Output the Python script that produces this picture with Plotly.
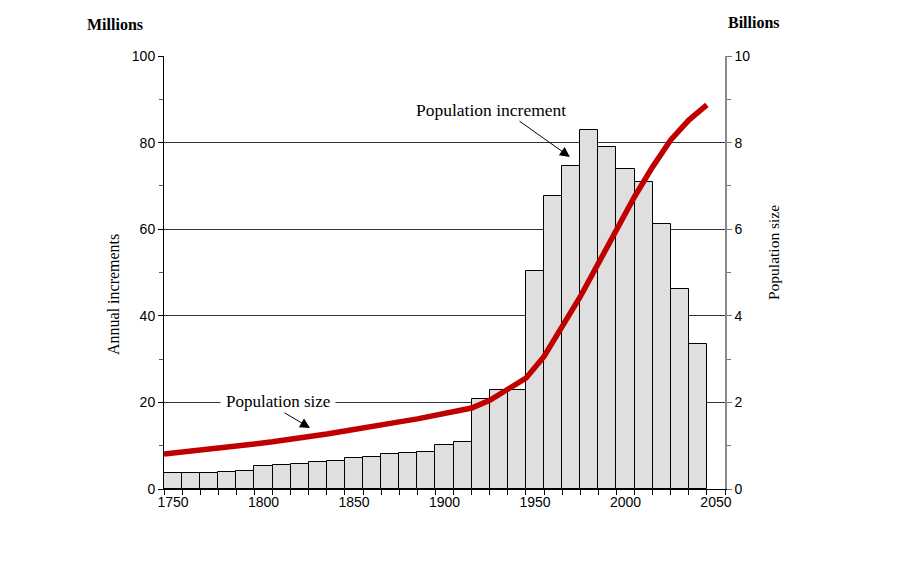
import plotly.graph_objects as go

bar_years = list(range(1750, 2050, 10))
increments = [3.6, 3.6, 3.6, 3.9, 4.2, 5.2, 5.5, 5.7, 6.2, 6.5,
              7.1, 7.3, 8.0, 8.2, 8.5, 10.1, 10.8, 20.9, 22.9, 22.9,
              50.3, 67.6, 74.5, 82.8, 78.9, 74.0, 70.8, 61.1, 46.3, 33.4]

line_years = list(range(1750, 2060, 10))
pop_size = [0.81, 0.85, 0.89, 0.93, 0.99, 1.04, 1.09, 1.14, 1.20, 1.27,
            1.34, 1.40, 1.47, 1.55, 1.62, 1.70, 1.78, 1.87, 2.05, 2.29,
            2.56, 3.06, 3.75, 4.44, 5.21, 5.98, 6.75, 7.44, 8.06, 8.52, 8.87]

label_years = [1750, 1800, 1850, 1900, 1950, 2000, 2050]
cat_width = 10

serif = "Liberation Serif"
sans = "Liberation Sans"

fig = go.Figure()
fig.add_trace(go.Bar(x=bar_years, y=increments, width=cat_width, offset=0,
                     marker=dict(color="#dfdfdf", line=dict(color="black", width=1)),
                     showlegend=False, hoverinfo="skip"))
fig.add_trace(go.Scatter(x=line_years, y=pop_size, yaxis="y2", mode="lines",
                         line=dict(color="#c00000", width=5.5),
                         showlegend=False, hoverinfo="skip"))

fig.update_layout(
    width=891, height=555,
    margin=dict(l=156, r=174, t=48, b=74),
    paper_bgcolor="white", plot_bgcolor="white",
    bargap=0,
    xaxis=dict(range=[1750, 1750 + cat_width * len(line_years)],
               tickvals=[y + cat_width / 2 for y in label_years],
               ticktext=[str(y) for y in label_years],
               ticks="", showgrid=False, zeroline=False,
               showline=True, linecolor="black", linewidth=1,
               tickfont=dict(family=sans, size=14, color="black"),
               minor=dict(tick0=1750, dtick=10, ticks="outside", ticklen=5,
                          tickcolor="black", showgrid=False)),
    yaxis=dict(range=[0, 100], dtick=20, ticks="outside", ticklen=5, tickcolor="black",
               showgrid=True, gridcolor="#333333", gridwidth=1, zeroline=False,
               showline=True, linecolor="black", linewidth=1,
               tickfont=dict(family=sans, size=14, color="black"),
               minor=dict(dtick=10, ticks="outside", ticklen=4, tickcolor="#555", showgrid=False)),
    yaxis2=dict(range=[0, 10], dtick=2, overlaying="y", side="right",
                ticks="outside", ticklen=5, tickcolor="#777",
                showgrid=False, zeroline=False,
                showline=True, linecolor="#888888", linewidth=1.5,
                tickfont=dict(family=sans, size=14, color="black"),
                minor=dict(dtick=1, ticks="outside", ticklen=4, tickcolor="#777", showgrid=False)),
)

fig.add_annotation(text="<b>Millions</b>", xref="paper", yref="paper", x=-0.141, y=1.0716,
                   xanchor="left", yanchor="middle", showarrow=False,
                   font=dict(family=serif, size=16, color="black"))
fig.add_annotation(text="<b>Billions</b>", xref="paper", yref="paper", x=1.0018, y=1.0785,
                   xanchor="left", yanchor="middle", showarrow=False,
                   font=dict(family=serif, size=16, color="black"))
fig.add_annotation(text="Annual increments", xref="paper", yref="paper", x=-0.0909, y=0.448,
                   textangle=-90, xanchor="center", yanchor="middle", showarrow=False,
                   font=dict(family=serif, size=16, color="black"))
fig.add_annotation(text="Population size", xref="paper", yref="paper", x=1.0856, y=0.545,
                   textangle=-90, xanchor="center", yanchor="middle", showarrow=False,
                   font=dict(family=serif, size=15.5, color="black"))

fig.add_annotation(text="Population increment", x=1930.7, y=87.5, xref="x", yref="y",
                   showarrow=False, font=dict(family=serif, size=17.5, color="black"))
fig.add_annotation(text="", x=1974.3, y=76.7, ax=1945.6, ay=85.2, xref="x", yref="y",
                   axref="x", ayref="y", showarrow=True, arrowhead=2, arrowsize=2,
                   arrowwidth=1, arrowcolor="black")
fig.add_annotation(text="Population size", x=1813, y=20.3, xref="x", yref="y",
                   showarrow=False, bgcolor="white", borderpad=5,
                   font=dict(family=serif, size=17, color="black"))
fig.add_annotation(text="", x=1830.7, y=14.1, ax=1815.8, ay=17.8, xref="x", yref="y",
                   axref="x", ayref="y", showarrow=True, arrowhead=2, arrowsize=2,
                   arrowwidth=1, arrowcolor="black")

fig.write_html("out.html")
